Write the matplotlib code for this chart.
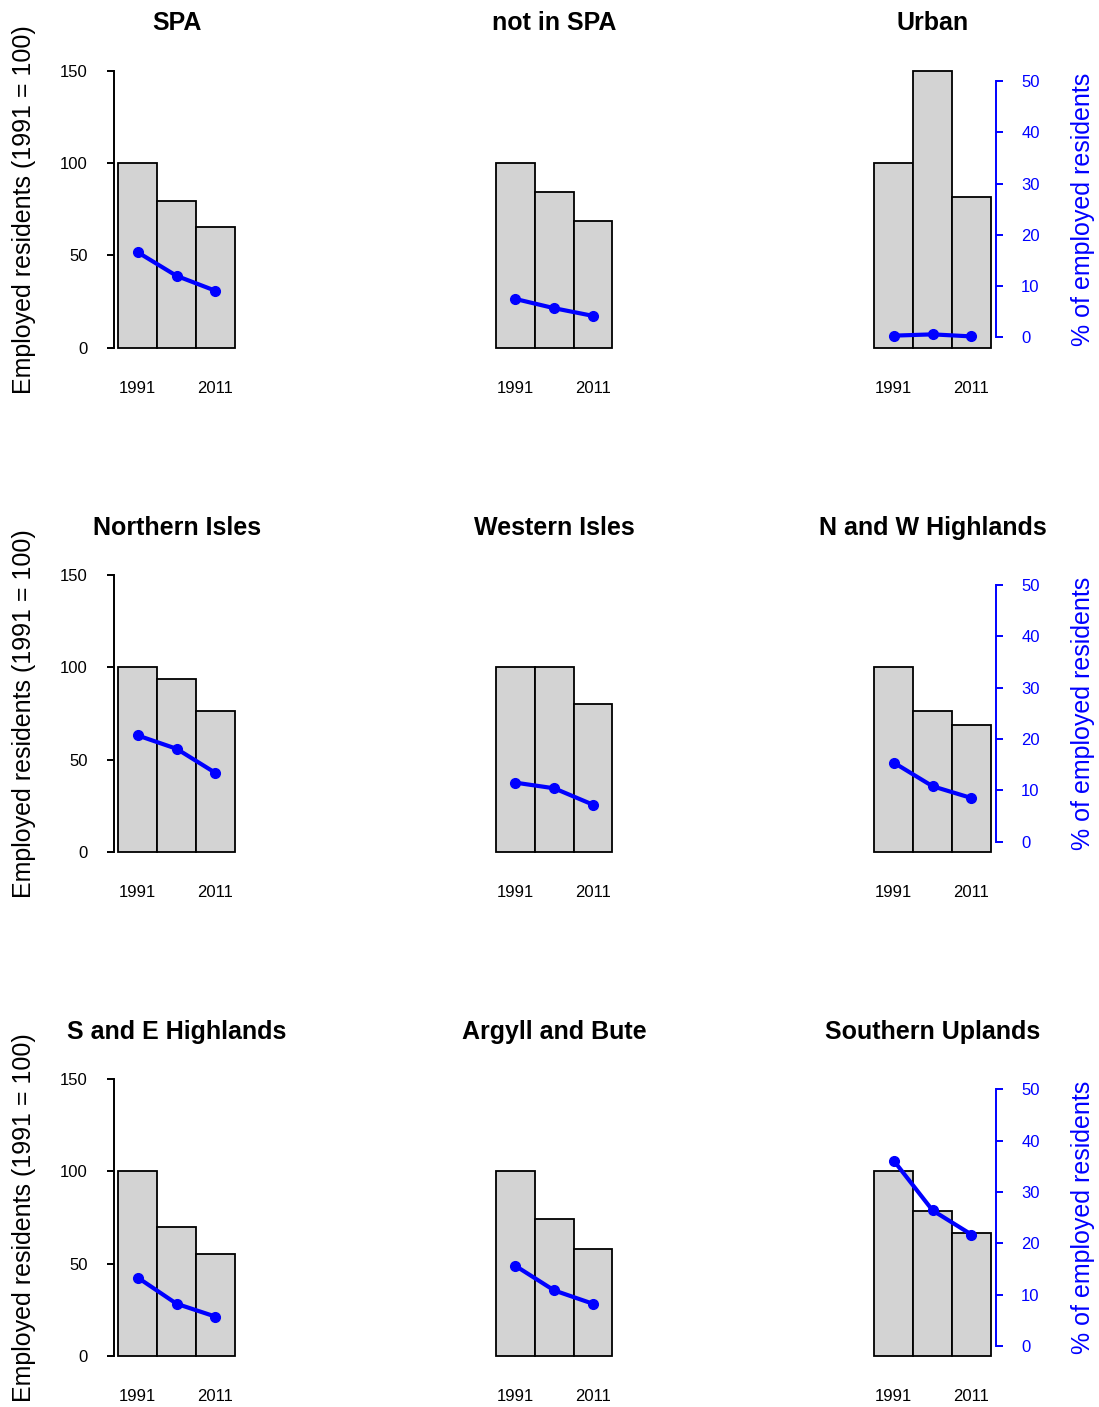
import matplotlib
matplotlib.use("Agg")
import matplotlib.pyplot as plt

plt.rcParams['font.family'] = ['Liberation Sans', 'DejaVu Sans']

# Employed residents in primary industries, by area
regions = ['SPA', 'not in SPA', 'Urban',
           'Northern Isles', 'Western Isles', 'N and W Highlands',
           'S and E Highlands', 'Argyll and Bute', 'Southern Uplands']
year_labels = ['1991', '', '2011']

# index of employed residents (1991 = 100) for 1991, 2001, 2011
index_vals = [
    [100, 79.2, 65.1],
    [100, 84.3, 68.7],
    [100, 149.8, 81.4],
    [100, 93.5, 76.1],
    [100, 100.0, 80.1],
    [100, 76.1, 68.7],
    [100, 70.0, 55.3],
    [100, 74.3, 57.9],
    [100, 78.8, 66.6],
]

# % of employed residents
pct_vals = [
    [16.6, 12.0, 9.1],
    [7.5, 5.7, 4.2],
    [0.35, 0.6, 0.2],
    [20.7, 18.1, 13.4],
    [11.5, 10.4, 7.2],
    [15.4, 10.8, 8.5],
    [13.3, 8.2, 5.7],
    [15.6, 10.8, 8.2],
    [36.1, 26.4, 21.7],
]

W, H = 1099, 1407
fig = plt.figure(figsize=(W / 100, H / 100), dpi=100)

col_left = [113.7, 491.3, 869.7]   # px
row_bottom = [347.7, 851.9, 1356.1]  # px from top
pw, ph = 125.8, 277.0

for i, name in enumerate(regions):
    r, c = divmod(i, 3)
    ax = fig.add_axes([col_left[c] / W, (H - row_bottom[r]) / H, pw / W, ph / H])
    x = range(len(year_labels))
    ax.bar(x, index_vals[i], width=1, color='lightgray', edgecolor='black',
           linewidth=1.3, clip_on=False)
    ax.set_xlim(-0.62, 2.62)
    ax.set_ylim(0, 150)
    ax.set_xticks(list(x))
    ax.set_xticklabels(year_labels, fontsize=12)
    ax.tick_params(axis='x', length=0, pad=24)
    for s in ['top', 'right', 'bottom']:
        ax.spines[s].set_visible(False)
    if c == 0:
        ax.spines['left'].set_bounds(0, 150)
        ax.spines['left'].set_linewidth(1.4)
        ax.set_yticks([0, 50, 100, 150])
        ax.tick_params(axis='y', length=4.8, width=1.4, pad=14, labelsize=12)
        fig.text(24 / W, 1 - (row_bottom[r] - ph / 2) / H,
                 'Employed residents (1991 = 100)', rotation=90,
                 ha='center', va='center', fontsize=18)
    else:
        ax.spines['left'].set_visible(False)
        ax.set_yticks([])
    ax.set_title(name, fontsize=18, fontweight='bold', pad=29)

    ax2 = ax.twinx()
    ax2.plot(list(x), pct_vals[i], color='blue', linewidth=3, marker='o',
             markersize=7, clip_on=False)
    ax2.set_ylim(-2, 52)
    for s in ['top', 'left', 'bottom']:
        ax2.spines[s].set_visible(False)
    if c == 2:
        ax2.spines['right'].set_bounds(0, 50)
        ax2.spines['right'].set_color('blue')
        ax2.spines['right'].set_linewidth(1.4)
        ax2.set_yticks([0, 10, 20, 30, 40, 50])
        ax2.tick_params(axis='y', colors='blue', length=4.8, width=1.4,
                        pad=13.7, labelsize=12)
        fig.text(1083 / W, 1 - (row_bottom[r] - ph / 2) / H,
                 '% of employed residents', rotation=90, color='blue',
                 ha='center', va='center', fontsize=18)
    else:
        ax2.spines['right'].set_visible(False)
        ax2.set_yticks([])

fig.savefig('out.png', dpi=100)
